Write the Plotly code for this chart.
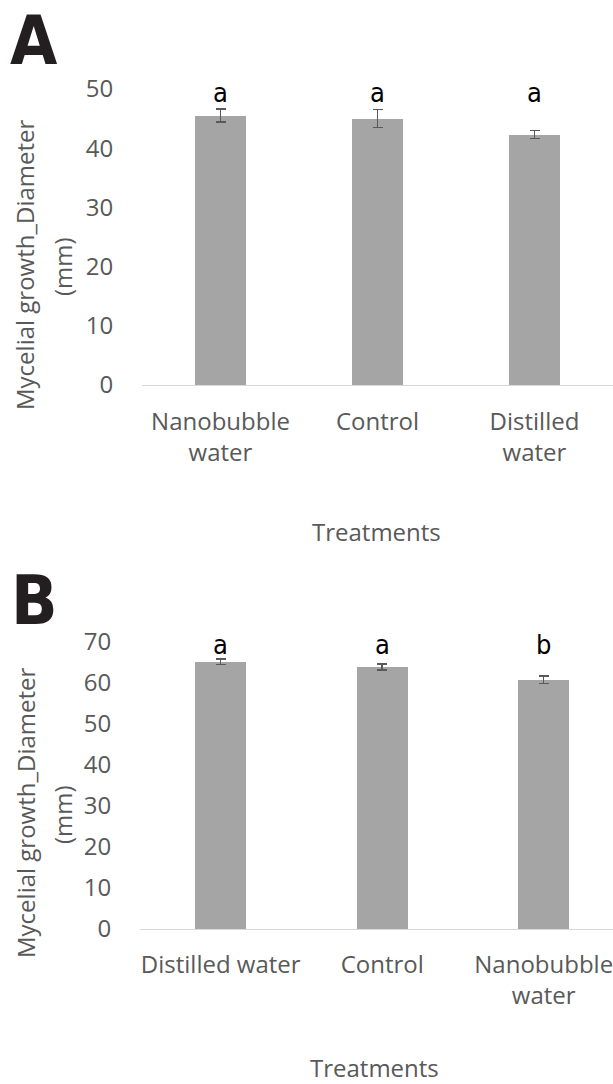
import plotly.graph_objects as go

# Panel A data
cats_a = ["Nanobubble<br>water", "Control", "Distilled<br>water"]
vals_a = [45.5, 45.0, 42.3]
err_a = [1.1, 1.5, 0.7]
sig_a = ["a", "a", "a"]
ticks_a = [0, 10, 20, 30, 40, 50]

# Panel B data
cats_b = ["Distilled water", "Control", "Nanobubble<br>water"]
vals_b = [65.2, 63.9, 60.8]
err_b = [0.65, 0.7, 0.95]
sig_b = ["a", "a", "b"]
ticks_b = [0, 10, 20, 30, 40, 50, 60, 70]

W, H = 613, 1084
GRAY = "#595959"
BAR = "#A5A5A5"
TXT_FONT = "Open Sans"
COND = "DejaVu Sans Condensed, Roboto, sans-serif"

fig = go.Figure()
fig.add_trace(go.Bar(x=cats_a, y=vals_a, width=0.32, marker=dict(color=BAR, line=dict(width=0)),
                     error_y=dict(type="data", array=err_a, color=GRAY, thickness=1.5, width=5),
                     xaxis="x", yaxis="y", showlegend=False, hoverinfo="skip"))
fig.add_trace(go.Bar(x=cats_b, y=vals_b, width=0.315, marker=dict(color=BAR, line=dict(width=0)),
                     error_y=dict(type="data", array=err_b, color=GRAY, thickness=1.5, width=5),
                     xaxis="x2", yaxis="y2", showlegend=False, hoverinfo="skip"))

def px_y(p):
    return (H - p) / H

def px_x(p):
    return p / W

axis_font = dict(family=TXT_FONT, size=24, color=GRAY)

fig.update_layout(
    width=W, height=H,
    margin=dict(l=0, r=0, t=0, b=0, autoexpand=False),
    paper_bgcolor="white", plot_bgcolor="white",
    bargap=0,
    xaxis=dict(domain=[142 / W, 1], anchor="y", type="category", range=[-0.5, 2.5],
               showline=True, linecolor="#D9D9D9", linewidth=1.3, showgrid=False, zeroline=False,
               ticks="outside", ticklen=15, tickcolor="rgba(0,0,0,0)", tickfont=axis_font),
    yaxis=dict(domain=[px_y(385), px_y(89)], anchor="x", range=[0, 50],
               tickvals=ticks_a, showline=False, showgrid=False, zeroline=False,
               ticks="outside", ticklen=23, tickcolor="rgba(0,0,0,0)", tickfont=axis_font),
    xaxis2=dict(domain=[140 / W, 1], anchor="y2", type="category", range=[-0.5, 2.429],
                showline=True, linecolor="#D9D9D9", linewidth=1.3, showgrid=False, zeroline=False,
                ticks="outside", ticklen=14, tickcolor="rgba(0,0,0,0)", tickfont=axis_font),
    yaxis2=dict(domain=[px_y(929), px_y(642)], anchor="x2", range=[0, 70],
                tickvals=ticks_b, showline=False, showgrid=False, zeroline=False,
                ticks="outside", ticklen=23, tickcolor="rgba(0,0,0,0)", tickfont=axis_font),
)

annotations = []
# significance letters
for c, s in zip(cats_a, sig_a):
    annotations.append(dict(x=c, y=49.4, xref="x", yref="y", text=s, showarrow=False,
                            font=dict(family=COND, size=27, color="black"),
                            xanchor="center", yanchor="middle"))
for c, s in zip(cats_b, sig_b):
    annotations.append(dict(x=c, y=69.5, xref="x2", yref="y2", text=s, showarrow=False,
                            font=dict(family=COND, size=27, color="black"),
                            xanchor="center", yanchor="middle"))

# panel labels
for lab, cx, cy in [("A", 34, 41), ("B", 34, 600)]:
    annotations.append(dict(x=px_x(cx), y=px_y(cy), xref="paper", yref="paper", text="<b>" + lab + "</b>",
                            showarrow=False, xanchor="center", yanchor="middle",
                            font=dict(family=COND, size=68, color="#231F20")))

# y-axis titles
for cy in [265, 813]:
    annotations.append(dict(x=px_x(25), y=px_y(cy), xref="paper", yref="paper",
                            text="Mycelial growth_Diameter", textangle=-90, showarrow=False,
                            xanchor="center", yanchor="middle", font=axis_font))
    annotations.append(dict(x=px_x(62), y=px_y(cy + 2), xref="paper", yref="paper",
                            text="(mm)", textangle=-90, showarrow=False,
                            xanchor="center", yanchor="middle", font=axis_font))

# x-axis titles
for cx, cy in [(376, 531), (374, 1067)]:
    annotations.append(dict(x=px_x(cx), y=px_y(cy), xref="paper", yref="paper",
                            text="Treatments", showarrow=False,
                            xanchor="center", yanchor="middle", font=axis_font))

fig.update_layout(annotations=annotations)

fig.write_html("out.html")
